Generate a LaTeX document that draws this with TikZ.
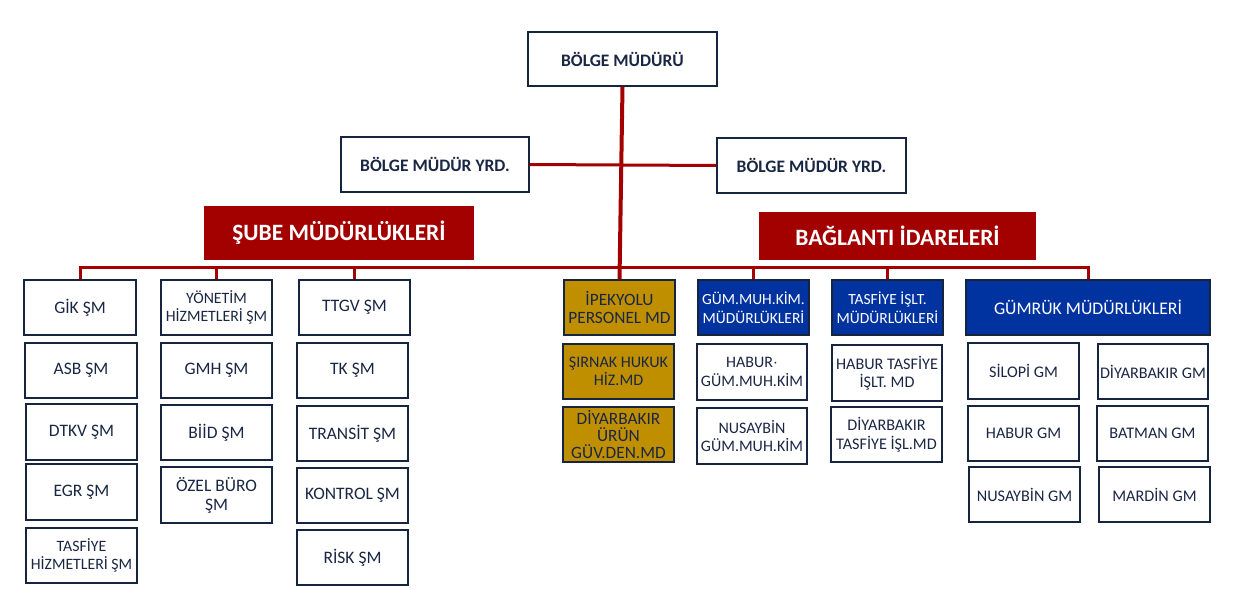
\documentclass[tikz,border=0pt]{standalone}
\usepackage{fontspec}
\setmainfont{Carlito}
\definecolor{navy}{HTML}{1A2744}
\definecolor{bordc}{HTML}{17243F}
\definecolor{redc}{HTML}{A30000}
\definecolor{goldc}{HTML}{BF8F00}
\definecolor{bluec}{HTML}{0033A0}
\tikzset{
  base/.style={draw=bordc, line width=1.1pt, inner sep=0pt, align=center, text=navy},
  fsz/.style={font=\fontsize{#1}{18.5}\selectfont},
  wbox/.style={base, fill=white, fsz=17.5},
  topbox/.style={base, fill=white, font=\bfseries\fontsize{17.5}{20}\selectfont},
  gbox/.style={base, fill=goldc, fsz=17.3},
  bbox/.style={base, fill=bluec, text=white, fsz=15.5},
  rhead/.style={draw=none, fill=redc, inner sep=0pt, text=white, font=\bfseries\fontsize{23.4}{26}\selectfont},
  redline/.style={draw=redc, line width=3pt},
  mainline/.style={draw=redc, line width=4pt},
}
\newcommand\orgbox[7]{%
  \node[#6, minimum width={(#4)-(#2)}, minimum height={(#5)-(#3)}] (#1) at ({((#2)+(#4))/2},{((#3)+(#5))/2}) {#7};}
\begin{document}
\begin{tikzpicture}[x=1pt,y=-1pt]
\useasboundingbox (0,0) rectangle (1248,589);
% top
\orgbox{bm}{528}{32}{717}{86}{topbox}{BÖLGE MÜDÜRÜ}
\orgbox{yrdl}{341}{137}{529}{192}{topbox}{BÖLGE MÜDÜR YRD.}
\orgbox{yrdr}{717}{138}{906}{193}{topbox}{BÖLGE MÜDÜR YRD.}
\orgbox{sube}{204}{206}{474}{260}{rhead}{ŞUBE MÜDÜRLÜKLERİ}
\orgbox{bag}{759}{212}{1036}{260}{rhead}{BAĞLANTI İDARELERİ}
% column 1
\orgbox{gik}{24}{280}{136}{335}{wbox}{GİK ŞM}
\orgbox{asb}{25}{343}{137}{398}{wbox}{ASB ŞM}
\orgbox{dtkv}{26}{404}{137}{460}{wbox}{DTKV ŞM}
\orgbox{egr}{26}{464}{137}{520}{wbox}{EGR ŞM}
\orgbox{tash}{26}{528}{137}{583}{wbox,fsz=15.8}{TASFİYE\\HİZMETLERİ ŞM}
% column 2
\orgbox{yon}{161}{280}{272}{335}{wbox,fsz=15.8}{YÖNETİM\\HİZMETLERİ ŞM}
\orgbox{gmh}{161}{343}{272}{398}{wbox}{GMH ŞM}
\orgbox{biid}{161}{405}{272}{460}{wbox}{BİİD ŞM}
\orgbox{ozel}{161}{467}{272}{523}{wbox,font=\fontsize{17.5}{19}\selectfont}{ÖZEL BÜRO\\ŞM}
% column 3
\orgbox{ttgv}{299}{280}{410}{335}{wbox}{TTGV ŞM}
\orgbox{tk}{297}{343}{408}{398}{wbox}{TK ŞM}
\orgbox{trn}{297}{406}{408}{461}{wbox}{TRANSİT ŞM}
\orgbox{knt}{297}{468}{408}{523}{wbox}{KONTROL ŞM}
\orgbox{rsk}{297}{530}{408}{585}{wbox}{RİSK ŞM}
% gold column
\orgbox{ipek}{564}{280}{675}{335}{gbox}{İPEKYOLU\\PERSONEL MD}
\orgbox{sirnak}{563}{344}{674}{399}{gbox,fsz=16.1}{ŞIRNAK HUKUK\\HİZ.MD}
\orgbox{diyu}{563}{407}{674}{462}{gbox,font=\fontsize{17.3}{17.2}\selectfont}{DİYARBAKIR\\ÜRÜN\\GÜV.DEN.MD}
% gum muh kim
\orgbox{gmk}{698}{280}{809}{335}{bbox}{GÜM.MUH.KİM.\\MÜDÜRLÜKLERİ}
\orgbox{habg}{697}{344}{807}{400}{wbox,fsz=16}{HABUR$\cdot$\\GÜM.MUH.KİM}
\orgbox{nusg}{697}{408}{807}{464}{wbox,fsz=16}{NUSAYBİN\\GÜM.MUH.KİM}
% tasfiye
\orgbox{tas}{832}{280}{943}{335}{bbox}{TASFİYE İŞLT.\\MÜDÜRLÜKLERİ}
\orgbox{habt}{832}{345}{942}{401}{wbox,fsz=16.2}{HABUR TASFİYE\\İŞLT. MD}
\orgbox{diyt}{831}{407}{942}{462}{wbox,fsz=16.2}{DİYARBAKIR\\TASFİYE İŞL.MD}
% gumruk
\orgbox{gum}{966}{280}{1210}{335}{bbox,fsz=17.7}{GÜMRÜK MÜDÜRLÜKLERİ}
\orgbox{sil}{968}{343}{1079}{399}{wbox,fsz=16.2}{SİLOPİ GM}
\orgbox{diyg}{1098}{344}{1208}{399}{wbox,fsz=16.2}{DİYARBAKIR GM}
\orgbox{habm}{968}{406}{1079}{461}{wbox,fsz=16.2}{HABUR GM}
\orgbox{bat}{1097}{406}{1208}{461}{wbox,fsz=16.2}{BATMAN GM}
\orgbox{nusm}{969}{467}{1080}{522}{wbox,fsz=16.2}{NUSAYBİN GM}
\orgbox{mar}{1099}{467}{1210}{522}{wbox,fsz=16.2}{MARDİN GM}
% connectors
\coordinate (bus) at (0,267);
\draw[redline] (yrdl.east) -- (yrdr.west);
\draw[redline] (gik.north) -- (gik.north|-bus) -- (gum.north|-bus) -- (gum.north);
\foreach \n in {yon,ttgv,gmk,tas} \draw[redline] (\n.north) -- (\n.north|-bus);
\draw[mainline] (bm.south) -- (ipek.north);
\end{tikzpicture}
\end{document}
